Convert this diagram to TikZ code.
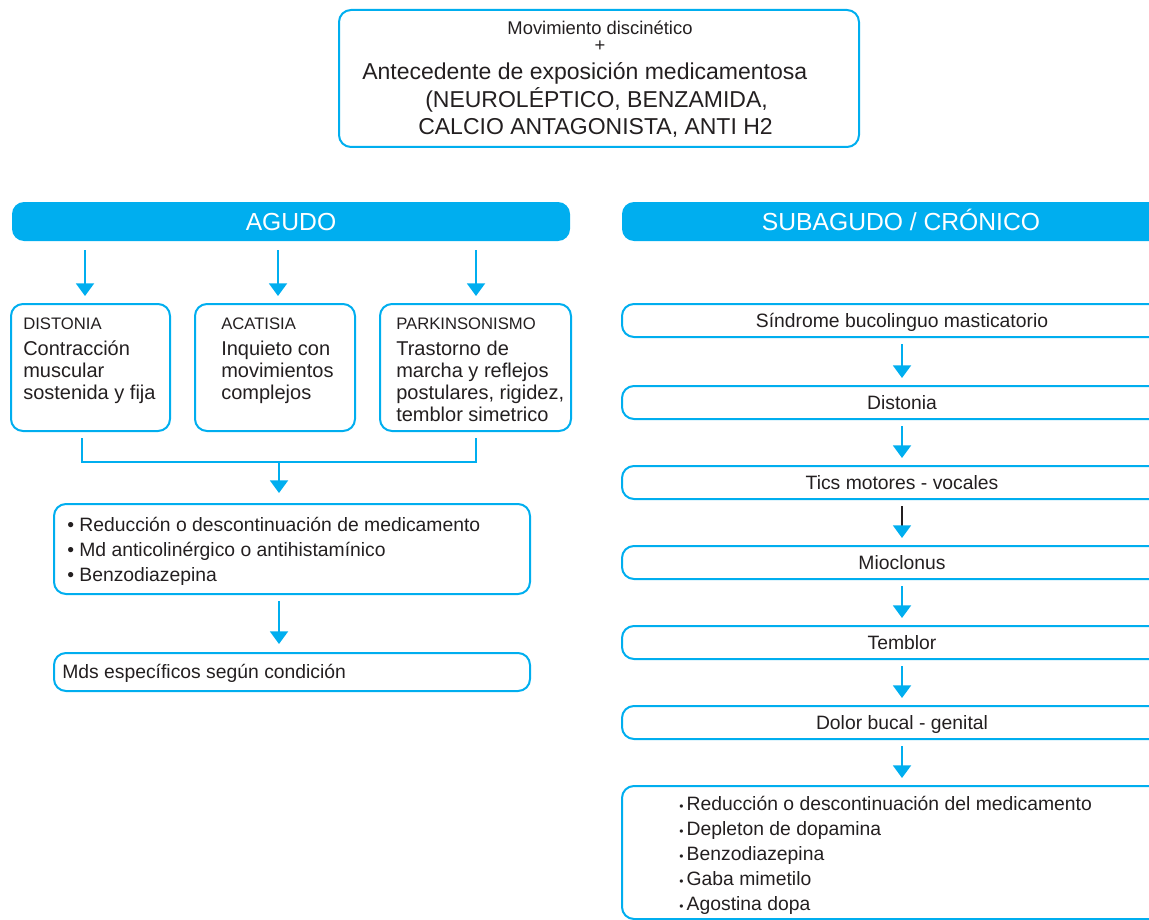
\documentclass[tikz,border=0pt]{standalone}
\usepackage{fontspec}
\setmainfont{Liberation Sans}
\usetikzlibrary{arrows.meta,fit}
\definecolor{cyanblue}{RGB}{0,174,239}
\definecolor{ink}{RGB}{35,31,32}

\begin{document}
\begin{tikzpicture}[x=0.75pt,y=-0.75pt,
  box/.style={draw=cyanblue, line width=1.5pt, rounded corners=9pt, inner sep=0pt},
  header/.style={fill=cyanblue, rounded corners=9pt, inner sep=0pt},
  headtext/.style={text=white, inner sep=0pt, anchor=base, font=\fontsize{18.5}{22}\selectfont},
  txt/.style={text=ink, inner sep=0pt, anchor=base west},
  ctxt/.style={text=ink, inner sep=0pt, anchor=base, font=\fontsize{14.5}{17}\selectfont},
  small/.style={font=\fontsize{12.5}{15}\selectfont},
  body/.style={font=\fontsize{15}{16.5}\selectfont, align=left},
  list/.style={font=\fontsize{14.5}{18.6}\selectfont, align=left},
  link/.style={draw=cyanblue, line width=1.5pt},
  flow/.style={draw=cyanblue, line width=1.5pt, -{Triangle[width=13.5pt,length=9.5pt]}},
  darkflow/.style={draw=ink, line width=1.3pt, -{Triangle[width=13.5pt,length=9.5pt,color=cyanblue]}}
]
\useasboundingbox (0,0) rectangle (1149,920);
\clip (0,0) rectangle (1149,920);

% ---------- top: presenting condition ----------
\node[box, fit={(339,10) (859,147)}] (top) {};
\node[txt, anchor=base, font=\fontsize{13.8}{16}\selectfont] (t1) at (600,35) {Movimiento discinético};
\node[txt, anchor=base, font=\fontsize{13.8}{16}\selectfont] (t2) at (600,52) {+};
\node[txt, font=\fontsize{17.25}{20}\selectfont] (t3) at (362,80) {Antecedente de exposición medicamentosa};
\node[txt, font=\fontsize{17.25}{20}\selectfont] (t4) at (425,108) {(NEUROLÉPTICO, BENZAMIDA,};
\node[txt, font=\fontsize{17.25}{20}\selectfont] (t5) at (418,135) {CALCIO ANTAGONISTA, ANTI H2};

% ---------- acute branch ----------
\node[header, fit={(12,202) (570,241)}] (agudo) {};
\node[headtext] (agudoT) at ([yshift=-6.6pt]agudo.center) {AGUDO};

\node[box, fit={(11,304) (170,431)}] (d1) {};
\node[box, fit={(195,304) (355,431)}] (d2) {};
\node[box, fit={(380,304) (571,431)}] (d3) {};

% multi-line texts are anchored at the baseline of their last line
\node[txt, small] (d1a) at (23,329) {DISTONIA};
\node[txt, body] (d1b) at (23,399) {Contracción\\muscular\\sostenida y fija};
\node[txt, small] (d2a) at (221,329) {ACATISIA};
\node[txt, body] (d2b) at (221,399) {Inquieto con\\movimientos\\complejos};
\node[txt, small] (d3a) at (396,329) {PARKINSONISMO};
\node[txt, body] (d3b) at (396,421) {Trastorno de\\marcha y reflejos\\postulares, rigidez,\\temblor simetrico};

\coordinate (x1) at (85,0);
\coordinate (x2) at (278,0);
\coordinate (x3) at (476,0);
\coordinate (bl) at (82,0);
\coordinate (mid) at (279,0);

\draw[flow, shorten <=6.75pt, shorten >=5.25pt] (agudo.south -| x1) -- (d1.north -| x1);
\draw[flow, shorten <=6.75pt, shorten >=5.25pt] (agudo.south -| x2) -- (d2.north -| x2);
\draw[flow, shorten <=6.75pt, shorten >=5.25pt] (agudo.south -| x3) -- (d3.north -| x3);

\node[box, fit={(54,504) (530,594)}] (tr) {};
\node[txt, list] (trT) at (67,581) {• Reducción o descontinuación de medicamento\\• Md anticolinérgico o antihistamínico\\• Benzodiazepina};
\node[box, fit={(54,653) (530,691)}] (md) {};
\node[txt, font=\fontsize{14.5}{17}\selectfont] (mdT) at (62,678) {Mds específicos según condición};

% bracket joining the three acute syndromes
\coordinate (j) at (279,462);
\draw[link] ([yshift=-4.5pt]d1.south -| bl) -- (j -| bl) -- (j -| x3) -- ([yshift=-4.5pt]d3.south -| x3);
\draw[flow, shorten >=7.5pt] (j) -- (tr.north -| mid);
\draw[flow, shorten <=4.5pt, shorten >=6pt] (tr.south -| mid) -- (md.north -| mid);

% ---------- subacute / chronic branch ----------
\node[header, fit={(622,202) (1180,241)}] (sub) {};
\node[headtext] (subT) at ([yshift=-6.6pt]sub.center) {SUBAGUDO / CRÓNICO};

\node[box, fit={(622,304) (1182,337)}] (s1) {};
\node[box, fit={(622,386) (1182,419)}] (s2) {};
\node[box, fit={(622,466) (1182,499)}] (s3) {};
\node[box, fit={(622,546) (1182,579)}] (s4) {};
\node[box, fit={(622,626) (1182,659)}] (s5) {};
\node[box, fit={(622,706) (1182,739)}] (s6) {};
\node[box, fit={(622,786) (1182,919)}] (s7) {};

\node[ctxt] (s1T) at ([yshift=-5.2pt]s1.center) {Síndrome bucolinguo masticatorio};
\node[ctxt] (s2T) at ([yshift=-5.2pt]s2.center) {Distonia};
\node[ctxt] (s3T) at ([yshift=-5.2pt]s3.center) {Tics motores - vocales};
\node[ctxt] (s4T) at ([yshift=-5.2pt]s4.center) {Mioclonus};
\node[ctxt] (s5T) at ([yshift=-5.2pt]s5.center) {Temblor};
\node[ctxt] (s6T) at ([yshift=-5.2pt]s6.center) {Dolor bucal - genital};
\node[txt, list] (s7T) at (679,910) {{\fontsize{9}{9}\selectfont•}\,Reducción o descontinuación del medicamento\\{\fontsize{9}{9}\selectfont•}\,Depleton de dopamina\\{\fontsize{9}{9}\selectfont•}\,Benzodiazepina\\{\fontsize{9}{9}\selectfont•}\,Gaba mimetilo\\{\fontsize{9}{9}\selectfont•}\,Agostina dopa};

\draw[flow, shorten <=4.5pt, shorten >=5.25pt] (s1.south) -- (s2.north);
\draw[flow, shorten <=4.5pt, shorten >=5.25pt] (s2.south) -- (s3.north);
\draw[darkflow, shorten <=4.5pt, shorten >=5.25pt] (s3.south) -- (s4.north);
\draw[flow, shorten <=4.5pt, shorten >=5.25pt] (s4.south) -- (s5.north);
\draw[flow, shorten <=4.5pt, shorten >=5.25pt] (s5.south) -- (s6.north);
\draw[flow, shorten <=4.5pt, shorten >=5.25pt] (s6.south) -- (s7.north);
\end{tikzpicture}
\end{document}
